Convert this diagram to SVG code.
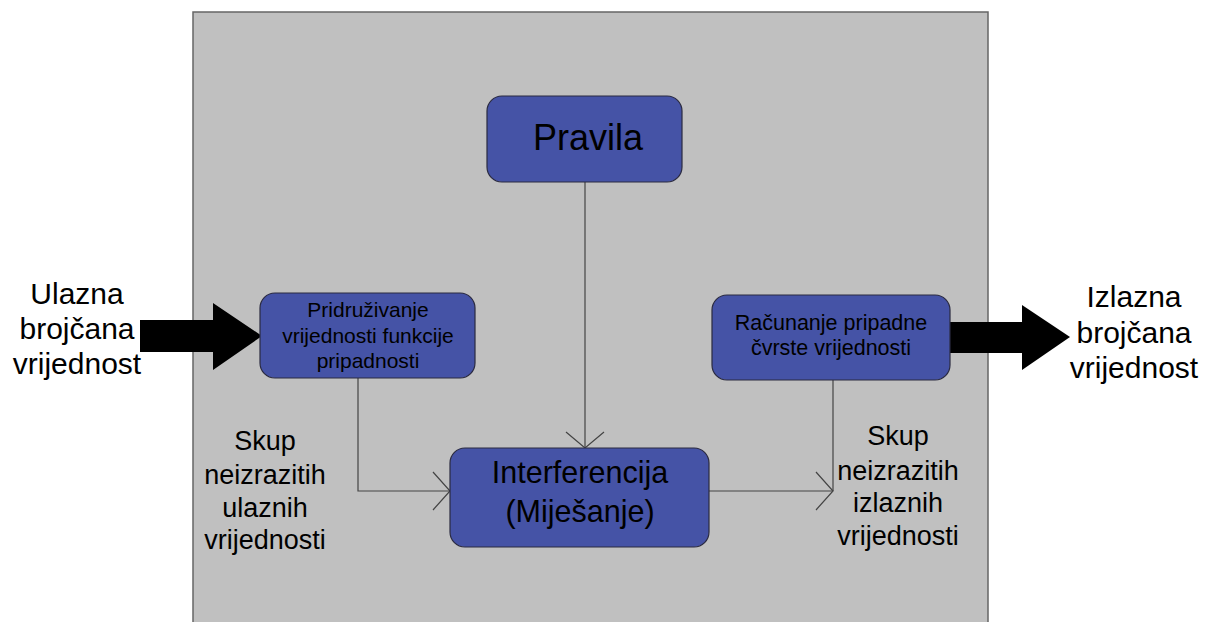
<svg xmlns="http://www.w3.org/2000/svg" width="1212" height="622" viewBox="0 0 1212 622">
<style>
.node{fill:#4553a6;stroke:#2a2a40;stroke-width:1.2}
.t{font-family:"Liberation Sans",Arial,sans-serif;fill:#000;text-anchor:middle}
.c{fill:none;stroke:#444;stroke-width:1.2}
.big{fill:#000}
</style>
<rect x="0" y="0" width="1212" height="622" fill="#fff"/>
<rect id="panel" x="193" y="12" width="795" height="620" fill="#c0c0c0" stroke="#666" stroke-width="1.5"/>

<g id="connectors">
  <path class="c" d="M585,182 V448"/>
  <path class="c" d="M566,432 L585,448 L604,432"/>
  <path class="c" d="M358,378 V491 H450"/>
  <path class="c" d="M433,472 L450,491 L433,510"/>
  <path class="c" d="M709,491 H833"/>
  <path class="c" d="M816,472 L833,491 L816,510"/>
  <path class="c" d="M833,380 V491"/>
  <path id="in-arrow" class="big" d="M140,320 H213 V303 L262,336 L213,370 V352 H140 Z"/>
  <path id="out-arrow" class="big" d="M950,322 H1022 V305 L1070,337 L1022,370 V353 H950 Z"/>
</g>

<g id="pravila">
  <rect class="node" x="487" y="96" width="195" height="86" rx="15"/>
  <text class="t" x="588" y="150" font-size="36">Pravila</text>
</g>

<g id="pridruzivanje">
  <rect class="node" x="260" y="293" width="215" height="85" rx="15"/>
  <text class="t" x="368" y="317" font-size="21">Pridruživanje</text>
  <text class="t" x="368" y="343" font-size="21">vrijednosti funkcije</text>
  <text class="t" x="368" y="368" font-size="21">pripadnosti</text>
</g>

<g id="racunanje">
  <rect class="node" x="712" y="295" width="238" height="85" rx="15"/>
  <text class="t" x="831" y="330" font-size="21.5">Računanje pripadne</text>
  <text class="t" x="831" y="355" font-size="21.5">čvrste vrijednosti</text>
</g>

<g id="interferencija">
  <rect class="node" x="450" y="448" width="259" height="99" rx="15"/>
  <text class="t" x="580" y="483" font-size="30.5">Interferencija</text>
  <text class="t" x="580" y="522" font-size="30.5">(Miješanje)</text>
</g>

<g id="ulazna">
  <text class="t" x="77" y="304" font-size="30">Ulazna</text>
  <text class="t" x="77" y="339" font-size="30">brojčana</text>
  <text class="t" x="77" y="374" font-size="30">vrijednost</text>
</g>

<g id="izlazna">
  <text class="t" x="1134" y="307" font-size="30">Izlazna</text>
  <text class="t" x="1134" y="343" font-size="30">brojčana</text>
  <text class="t" x="1134" y="378" font-size="30">vrijednost</text>
</g>

<g id="skup-ulaz">
  <text class="t" x="265" y="450" font-size="27">Skup</text>
  <text class="t" x="265" y="484" font-size="27">neizrazitih</text>
  <text class="t" x="265" y="517" font-size="27">ulaznih</text>
  <text class="t" x="265" y="549" font-size="27">vrijednosti</text>
</g>

<g id="skup-izlaz">
  <text class="t" x="898" y="445" font-size="27">Skup</text>
  <text class="t" x="898" y="480" font-size="27">neizrazitih</text>
  <text class="t" x="898" y="512" font-size="27">izlaznih</text>
  <text class="t" x="898" y="545" font-size="27">vrijednosti</text>
</g>
</svg>
